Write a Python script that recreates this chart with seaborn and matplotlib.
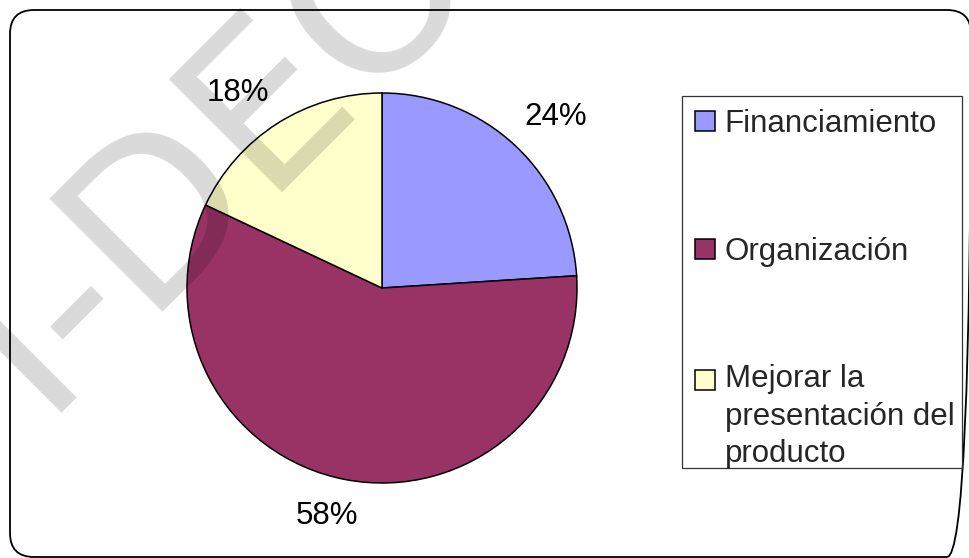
import matplotlib
matplotlib.use("Agg")
import matplotlib.pyplot as plt
from matplotlib.patches import FancyBboxPatch, Rectangle
import seaborn as sns

# Survey answers: which aspect needs the most improvement
categories = ["Financiamiento", "Organización", "Mejorar la\npresentación del\nproducto"]
shares = [24, 58, 18]
slice_colors = ["#9999FF", "#993366", "#FFFFCC"]

sns.set_theme(style="white")
plt.rcParams["font.family"] = ["Liberation Sans", "DejaVu Sans"]

W, H = 969, 558
FS = 22.5
fig = plt.figure(figsize=(W / 100, H / 100), dpi=100)
fig.patch.set_facecolor("white")

# Pie axes, centre and radius in pixels
cx, cy, r = 382, 288, 195
lim = 1.25
ax = fig.add_axes([(cx - lim * r) / W, (H - cy - lim * r) / H,
                   2 * lim * r / W, 2 * lim * r / H])
palette = sns.color_palette(slice_colors)
wedges, texts, autotexts = ax.pie(
    shares, colors=palette, startangle=90, counterclock=False,
    autopct=lambda p: f"{p:.0f}%", pctdistance=1.22,
    wedgeprops=dict(edgecolor="black", linewidth=1.1),
    textprops=dict(fontsize=FS, color="black"),
)
ax.set_xlim(-lim, lim)
ax.set_ylim(-lim, lim)

# Percentage label placement around the pie (pixel positions of label centres)
label_px = [(556, 117), (327, 516), (238, 93)]
for t, (px, py) in zip(autotexts, label_px):
    t.set_position(((px - cx) / r, (cy - py) / r))
    t.set_ha("center")
    t.set_va("center")

# Legend on the right (its box is drawn separately below)
leg = fig.legend(
    wedges, categories, loc="upper left",
    bbox_to_anchor=(682 / W, 1 - 96 / H), bbox_transform=fig.transFigure,
    fontsize=FS, frameon=False, borderpad=0.42, labelspacing=3.12,
    handlelength=0.62, handleheight=0.62, handletextpad=0.33,
    borderaxespad=0,
)
for txt in leg.get_texts():
    txt.set_linespacing(1.33)
# Align the last swatch with the first line of its label
last = leg.legend_handles[2]
last.set_y(last.get_y() + 27)
for h in leg.legend_handles:
    h.set_edgecolor("black")
    h.set_linewidth(1.1)

# Overlay axes in pixel units for the chart border, legend box and watermark
ov = fig.add_axes([0, 0, 1, 1], zorder=5)
ov.set_xlim(0, W)
ov.set_ylim(H, 0)
ov.axis("off")
ov.patch.set_alpha(0)
border = FancyBboxPatch((10, 10), 961, 547,
                        boxstyle="round,pad=0,rounding_size=24",
                        facecolor="none", edgecolor="black", linewidth=1.3)
ov.add_patch(border)
ov.add_patch(Rectangle((682, 96), 280, 372, facecolor="none",
                       edgecolor="#333333", linewidth=0.9))
ov.text(40, 413, "I-DEO", rotation=45, rotation_mode="anchor",
        ha="left", va="baseline", fontsize=158, color="black", alpha=0.15,
        family="DejaVu Sans")

fig.savefig("out.png", dpi=100)
